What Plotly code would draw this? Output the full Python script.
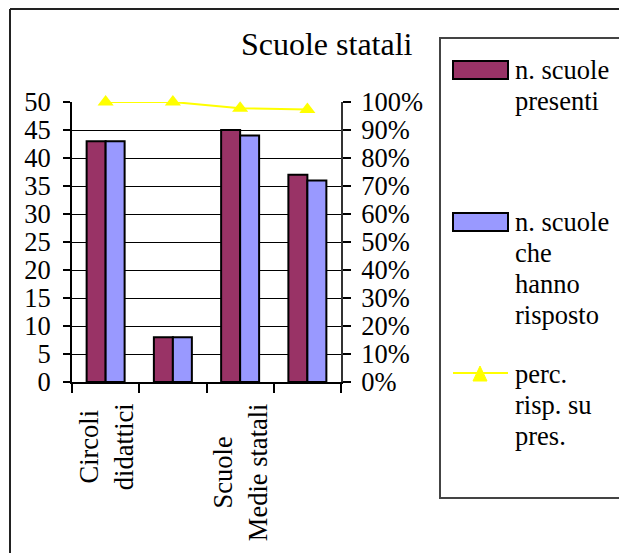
import plotly.graph_objects as go

# ---------------- data ----------------
categories = ["Circoli<br>didattici", "", "Scuole<br>Medie statali", ""]
scuole_presenti = [43, 8, 45, 37]
scuole_risposto = [43, 8, 44, 36]
perc_risposte = [1.0, 1.0, 0.978, 0.973]

left_tick_values = [0, 5, 10, 15, 20, 25, 30, 35, 40, 45, 50]
right_tick_values = [0, 0.1, 0.2, 0.3, 0.4, 0.5, 0.6, 0.7, 0.8, 0.9, 1.0]
right_tick_labels = ["0%", "10%", "20%", "30%", "40%", "50%", "60%", "70%", "80%", "90%", "100%"]

series_names = ["n. scuole presenti", "n. scuole che hanno risposto", "perc. risp. su pres."]
legend_lines = [["n. scuole", "presenti"],
                ["n. scuole", "che", "hanno", "risposto"],
                ["perc.", "risp. su", "pres."]]
chart_title = "Scuole statali"

# ---------------- styling ----------------
OFF = 8                      # page body margin of the browser
W, H = 627 - OFF, 553 - OFF
PLOT_L, PLOT_R, PLOT_T, PLOT_B = 72, 341, 102, 382   # target page pixels
ML = PLOT_L - OFF
MT = PLOT_T - OFF
MR = W - (PLOT_R - OFF)
MB = H - (PLOT_B - OFF)
PW, PH = W - ML - MR, H - MT - MB
FONT = "'Liberation Serif', 'Times New Roman', Times, serif"
FS = 26.5
C_MAROON = "#993366"
C_BLUE = "#9999FF"
C_YELLOW = "#FFFF00"


def px_x(X):
    return (X - OFF - ML) / PW


def px_y(Y):
    return (H - MB - (Y - OFF)) / PH


x_pos = list(range(len(categories)))

fig = go.Figure()
fig.add_trace(go.Bar(x=x_pos, y=scuole_presenti, name=series_names[0],
                     marker=dict(color=C_MAROON, line=dict(color="black", width=2)),
                     showlegend=False))
fig.add_trace(go.Bar(x=x_pos, y=scuole_risposto, name=series_names[1],
                     marker=dict(color=C_BLUE, line=dict(color="black", width=2)),
                     showlegend=False))
fig.add_trace(go.Scatter(x=x_pos, y=perc_risposte, name=series_names[2], yaxis="y2",
                         mode="lines+markers", line=dict(color=C_YELLOW, width=2),
                         marker=dict(symbol="triangle-up", size=14, color=C_YELLOW),
                         showlegend=False, cliponaxis=False))

shapes = []
annotations = []

# outer frame (top and left edges visible)
shapes.append(dict(type="line", xref="paper", yref="paper",
                   x0=px_x(10), y0=px_y(OFF + 1), x1=px_x(640), y1=px_y(OFF + 1),
                   line=dict(color="#222", width=2)))
shapes.append(dict(type="line", xref="paper", yref="paper",
                   x0=px_x(10), y0=px_y(OFF + 1), x1=px_x(10), y1=px_y(570),
                   line=dict(color="#222", width=2)))

# legend frame
shapes.append(dict(type="rect", xref="paper", yref="paper",
                   x0=px_x(440), y0=px_y(38), x1=px_x(622), y1=px_y(498),
                   line=dict(color="#444", width=2), fillcolor="rgba(0,0,0,0)"))

# legend swatches
sw_x0, sw_x1 = 453, 508
shapes.append(dict(type="rect", xref="paper", yref="paper",
                   x0=px_x(sw_x0), y0=px_y(61), x1=px_x(sw_x1), y1=px_y(79),
                   fillcolor=C_MAROON, line=dict(color="black", width=2)))
shapes.append(dict(type="rect", xref="paper", yref="paper",
                   x0=px_x(sw_x0), y0=px_y(213), x1=px_x(sw_x1), y1=px_y(231),
                   fillcolor=C_BLUE, line=dict(color="black", width=2)))
shapes.append(dict(type="line", xref="paper", yref="paper",
                   x0=px_x(sw_x0), y0=px_y(373), x1=px_x(sw_x1), y1=px_y(373),
                   line=dict(color=C_YELLOW, width=2)))
tri = "M {:.5f},{:.5f} L {:.5f},{:.5f} L {:.5f},{:.5f} Z".format(
    px_x(480), px_y(366), px_x(473), px_y(381), px_x(487), px_y(381))
shapes.append(dict(type="path", xref="paper", yref="paper", path=tri,
                   fillcolor=C_YELLOW, line=dict(color=C_YELLOW, width=1)))

legend_first_y = [70, 222, 374]
LEG_SP = 31
for lines, y0 in zip(legend_lines, legend_first_y):
    for k, txt in enumerate(lines):
        annotations.append(dict(text=txt, xref="paper", yref="paper",
                                x=px_x(513), y=px_y(y0 + k * LEG_SP),
                                xanchor="left", yanchor="middle", showarrow=False,
                                font=dict(family=FONT, size=FS, color="black")))

# category labels (rotated)
for xi, lab in zip(x_pos, categories):
    if lab:
        annotations.append(dict(text=lab, xref="x", yref="paper", x=xi, y=px_y(401),
                                xanchor="center", yanchor="top", textangle=-90,
                                align="center", showarrow=False,
                                font=dict(family=FONT, size=FS, color="black")))

fig.update_layout(
    template="none",
    width=W, height=H, autosize=False,
    margin=dict(l=ML, r=MR, t=MT, b=MB, pad=0),
    paper_bgcolor="white", plot_bgcolor="white",
    font=dict(family=FONT, size=FS, color="black"),
    title=dict(text=chart_title, xref="container", yref="container",
               x=(326.7 - OFF) / W, y=1 - (44 - OFF) / H,
               xanchor="center", yanchor="middle",
               font=dict(family=FONT, size=32, color="black")),
    barmode="group", bargap=0.435, bargroupgap=0,
    showlegend=False,
    xaxis=dict(range=[-0.5, len(categories) - 0.5], tickmode="array",
               tickvals=[i - 0.5 for i in range(len(categories) + 1)],
               ticktext=["" for _ in range(len(categories) + 1)],
               showline=True, linecolor="black", linewidth=2,
               ticks="outside", ticklen=9, tickcolor="black", tickwidth=1.5,
               showgrid=False, zeroline=False, automargin=False, fixedrange=True),
    yaxis=dict(range=[0, 50], tickmode="array", tickvals=left_tick_values,
               showgrid=True, gridcolor="black", gridwidth=1,
               showline=True, linecolor="black", linewidth=2,
               ticks="outside", ticklen=7, tickcolor="black", tickwidth=1.5,
               ticklabelstandoff=7,
               tickfont=dict(family=FONT, size=FS, color="black"),
               zeroline=False, automargin=False, fixedrange=True),
    yaxis2=dict(range=[0, 1], overlaying="y", side="right", tickmode="array",
                tickvals=right_tick_values, ticktext=right_tick_labels,
                showgrid=False, showline=True, linecolor="#333", linewidth=2,
                ticks="outside", ticklen=8, tickcolor="black", tickwidth=1.5,
                ticklabelstandoff=5,
                tickfont=dict(family=FONT, size=FS, color="black"),
                zeroline=False, automargin=False, fixedrange=True),
    shapes=shapes,
    annotations=annotations,
)

fig.write_html("out.html")
